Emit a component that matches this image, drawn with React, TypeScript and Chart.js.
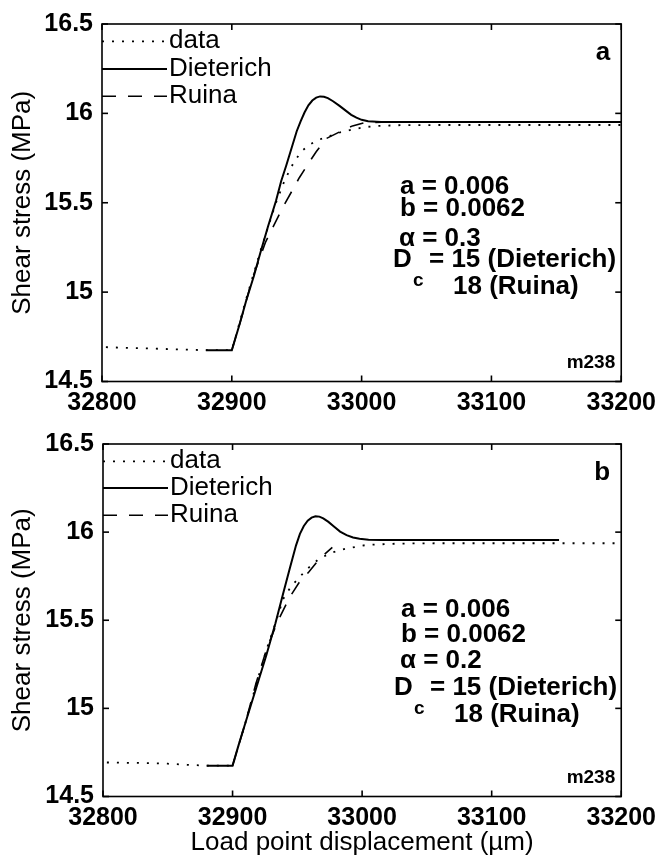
import React, { useEffect, useRef } from 'react';
import { Chart, registerables } from 'chart.js';

Chart.register(...registerables);

const FONT = "'Liberation Sans', Arial, Helvetica, sans-serif";

// Axis ranges / ticks
const X_MIN = 32800;
const X_MAX = 33200;
const X_STEP = 100;
const Y_MIN = 14.5;
const Y_MAX = 16.5;
const Y_STEP = 0.5;

const SERIES_LABELS = ['data', 'Dieterich', 'Ruina'];
const X_TITLE = 'Load point displacement (\u00b5m)';
const Y_TITLE = 'Shear stress (MPa)';
const RUN_ID = 'm238';
const PARAM_A = '0.006';
const PARAM_B = '0.0062';
const DC_DIETERICH = '15 (Dieterich)';
const DC_RUINA = '18 (Ruina)';

// ---------- Panel a ----------
const A_DATA_X = [32803, 32820, 32840, 32860, 32880, 32900, 32911, 32922, 32934, 32941, 32948, 32954, 32960, 32966, 32974, 32984, 32993, 33002, 33012, 33030, 33060, 33100, 33150, 33200];
const A_DATA_Y = [14.692, 14.688, 14.684, 14.679, 14.675, 14.675, 14.96, 15.23, 15.5, 15.63, 15.73, 15.79, 15.825, 15.85, 15.87, 15.895, 15.91, 15.923, 15.93, 15.934, 15.935, 15.935, 15.935, 15.935];

const A_DIET_X = [32880, 32900, 32906, 32911, 32917, 32922, 32928, 32934, 32938, 32942, 32946, 32950, 32953, 32956, 32959, 32962, 32965, 32968, 32971, 32974, 32978, 32983, 32988, 32992, 32996, 33000, 33005, 33015, 33200];
const A_DIET_Y = [14.675, 14.675, 14.82, 14.95, 15.09, 15.22, 15.37, 15.51, 15.62, 15.71, 15.805, 15.9, 15.955, 16.005, 16.045, 16.072, 16.088, 16.095, 16.093, 16.085, 16.068, 16.042, 16.014, 15.992, 15.976, 15.964, 15.956, 15.952, 15.952];

const A_RUINA_X = [32900, 32908, 32916, 32926, 32939, 32952, 32959, 32965, 32973, 32984, 32993, 33002, 33020, 33200];
const A_RUINA_Y = [14.675, 14.87, 15.08, 15.28, 15.47, 15.64, 15.72, 15.785, 15.86, 15.9, 15.93, 15.948, 15.952, 15.952];

const A_ALPHA = '0.3';
const A_LETTER = 'a';

// ---------- Panel b ----------
const B_DATA_X = [32803, 32830, 32850, 32865, 32880, 32900, 32910, 32918, 32926, 32933, 32939, 32945, 32951, 32959, 32967, 32977, 32987, 33003, 33028, 33060, 33100, 33150, 33200];
const B_DATA_Y = [14.693, 14.69, 14.686, 14.68, 14.675, 14.675, 14.92, 15.13, 15.33, 15.48, 15.62, 15.69, 15.74, 15.8, 15.85, 15.885, 15.905, 15.927, 15.935, 15.937, 15.937, 15.937, 15.937];

const B_DIET_X = [32880, 32900, 32905, 32910, 32918, 32926, 32933, 32939, 32944, 32949, 32952, 32955, 32958, 32961, 32964, 32967, 32970, 32974, 32978, 32983, 32988, 32993, 32998, 33005, 33015, 33152];
const B_DIET_Y = [14.675, 14.675, 14.8, 14.92, 15.11, 15.3, 15.48, 15.65, 15.79, 15.925, 15.99, 16.035, 16.065, 16.082, 16.09, 16.088, 16.078, 16.058, 16.033, 16.003, 15.983, 15.97, 15.962, 15.957, 15.955, 15.955];

const B_RUINA_X = [32900, 32910, 32918, 32926, 32934, 32944, 32951, 32959, 32965, 32970, 32977];
const B_RUINA_Y = [14.675, 14.92, 15.14, 15.33, 15.48, 15.63, 15.71, 15.775, 15.83, 15.868, 15.914];

const B_ALPHA = '0.2';
const B_LETTER = 'b';

type Panel = {
  dataX: number[]; dataY: number[];
  dietX: number[]; dietY: number[];
  ruinaX: number[]; ruinaY: number[];
  alpha: string; letter: string;
  padTop: number; xAxisH: number; yAxisW: number;
  showXTitle: boolean;
  legendRows: number[];
  textRows: number[];
};

const PANEL_A: Panel = {
  dataX: A_DATA_X, dataY: A_DATA_Y, dietX: A_DIET_X, dietY: A_DIET_Y, ruinaX: A_RUINA_X, ruinaY: A_RUINA_Y,
  alpha: A_ALPHA, letter: A_LETTER,
  padTop: 21, xAxisH: 38.5, yAxisW: 102, showXTitle: false,
  legendRows: [17.3, 45, 72.3],
  textRows: [163, 185, 215, 236, 263],
};

const PANEL_B: Panel = {
  dataX: B_DATA_X, dataY: B_DATA_Y, dietX: B_DIET_X, dietY: B_DIET_Y, ruinaX: B_RUINA_X, ruinaY: B_RUINA_Y,
  alpha: B_ALPHA, letter: B_LETTER,
  padTop: 16, xAxisH: 70.5, yAxisW: 103, showXTitle: true,
  legendRows: [17.3, 44, 71.3],
  textRows: [166, 191, 217, 244, 271],
};

const zip = (xs: number[], ys: number[]) => xs.map((x, i) => ({ x, y: ys[i] }));

function makeDecor(panel: Panel) {
  return {
    id: 'decor-' + panel.letter,
    afterDraw(chart: any) {
      const { ctx, chartArea: ca } = chart;
      const xs = chart.scales.x;
      const ys = chart.scales.y;
      const TL = 6;
      const line = (x1: number, y1: number, x2: number, y2: number) => {
        ctx.beginPath(); ctx.moveTo(x1, y1); ctx.lineTo(x2, y2); ctx.stroke();
      };
      ctx.save();
      ctx.strokeStyle = '#000';
      ctx.fillStyle = '#000';
      ctx.lineWidth = 1.6;
      ctx.setLineDash([]);
      ctx.strokeRect(ca.left, ca.top, ca.right - ca.left, ca.bottom - ca.top);
      xs.ticks.forEach((t: any) => {
        const p = xs.getPixelForValue(t.value);
        line(p, ca.bottom, p, ca.bottom - TL);
        line(p, ca.top, p, ca.top + TL);
      });
      ys.ticks.forEach((t: any) => {
        const p = ys.getPixelForValue(t.value);
        line(ca.left, p, ca.left + TL, p);
        line(ca.right, p, ca.right - TL, p);
      });

      // legend
      ctx.textBaseline = 'middle';
      ctx.textAlign = 'left';
      ctx.font = `26px ${FONT}`;
      chart.data.datasets.forEach((ds: any, i: number) => {
        const y = ca.top + panel.legendRows[i];
        ctx.lineWidth = ds.borderWidth;
        ctx.setLineDash(ds.borderDash || []);
        line(ca.left, y, ca.left + 65, y);
        ctx.setLineDash([]);
        ctx.fillText(ds.label, ca.left + 67, y);
      });

      // parameter text
      const L = ca.left;
      const T = ca.top;
      ctx.font = `bold 26px ${FONT}`;
      ctx.fillText(`a = ${PARAM_A}`, L + 298, T + panel.textRows[0]);
      ctx.fillText(`b = ${PARAM_B}`, L + 298, T + panel.textRows[1]);
      ctx.fillText(`\u03b1 = ${panel.alpha}`, L + 297, T + panel.textRows[2]);
      ctx.fillText('D', L + 291, T + panel.textRows[3]);
      ctx.fillText(`= ${DC_DIETERICH}`, L + 327, T + panel.textRows[3]);
      ctx.fillText(DC_RUINA, L + 351, T + panel.textRows[4]);
      ctx.font = `bold 19px ${FONT}`;
      ctx.fillText('c', L + 311, T + panel.textRows[3] + 21);

      // panel letter and run id
      ctx.textAlign = 'right';
      ctx.font = `bold 26px ${FONT}`;
      ctx.fillText(panel.letter, ca.right - 11, ca.top + 29);
      ctx.font = `bold 19px ${FONT}`;
      ctx.fillText(RUN_ID, ca.right - 6, ca.bottom - 19);
      ctx.restore();
    },
  };
}

function makeConfig(panel: Panel): any {
  return {
    type: 'line',
    data: {
      datasets: [
        {
          label: SERIES_LABELS[0], data: zip(panel.dataX, panel.dataY),
          borderColor: '#000', borderWidth: 1.8, borderDash: [2, 8], pointRadius: 0, tension: 0, fill: false,
        },
        {
          label: SERIES_LABELS[1], data: zip(panel.dietX, panel.dietY),
          borderColor: '#000', borderWidth: 2, borderDash: [], pointRadius: 0, tension: 0, fill: false,
        },
        {
          label: SERIES_LABELS[2], data: zip(panel.ruinaX, panel.ruinaY),
          borderColor: '#000', borderWidth: 1.6, borderDash: [14, 12], pointRadius: 0, tension: 0, fill: false,
        },
      ],
    },
    options: {
      animation: false,
      responsive: false,
      devicePixelRatio: 1,
      layout: { padding: { top: panel.padTop, right: 40, bottom: 0, left: 0 } },
      plugins: { legend: { display: false }, tooltip: { enabled: false } },
      scales: {
        x: {
          type: 'linear', min: X_MIN, max: X_MAX,
          ticks: {
            stepSize: X_STEP, callback: (v: any) => String(v), color: '#000',
            font: { family: FONT, size: 25, weight: 'bold' }, padding: 7, maxRotation: 0, autoSkip: false,
          },
          grid: { display: false, drawTicks: false },
          border: { display: false },
          title: {
            display: panel.showXTitle, text: X_TITLE, color: '#000',
            font: { family: FONT, size: 26 }, padding: { top: 0, bottom: 9 },
          },
          afterFit: (s: any) => { s.height = panel.xAxisH; },
        },
        y: {
          type: 'linear', min: Y_MIN, max: Y_MAX,
          ticks: {
            stepSize: Y_STEP, callback: (v: any) => String(v), color: '#000',
            font: { family: FONT, size: 25, weight: 'bold' }, padding: 9,
          },
          grid: { display: false, drawTicks: false },
          border: { display: false },
          title: {
            display: true, text: Y_TITLE, color: '#000',
            font: { family: FONT, size: 26 }, padding: { top: 7, bottom: 0 },
          },
          afterFit: (s: any) => { s.width = panel.yAxisW; },
        },
      },
    },
    plugins: [makeDecor(panel)],
  };
}

export default function App() {
  const refA = useRef<HTMLCanvasElement>(null);
  const refB = useRef<HTMLCanvasElement>(null);
  useEffect(() => {
    const ca = new Chart(refA.current as HTMLCanvasElement, makeConfig(PANEL_A));
    const cb = new Chart(refB.current as HTMLCanvasElement, makeConfig(PANEL_B));
    return () => { ca.destroy(); cb.destroy(); };
  }, []);
  return (
    <div style={{ position: 'fixed', left: 0, top: 0, width: 663, height: 867, background: '#fff' }}>
      <canvas ref={refA} width={663} height={420}
        style={{ position: 'absolute', left: 0, top: 0, width: 663, height: 420, display: 'block' }} />
      <canvas ref={refB} width={663} height={447}
        style={{ position: 'absolute', left: 0, top: 420, width: 663, height: 447, display: 'block' }} />
    </div>
  );
}
